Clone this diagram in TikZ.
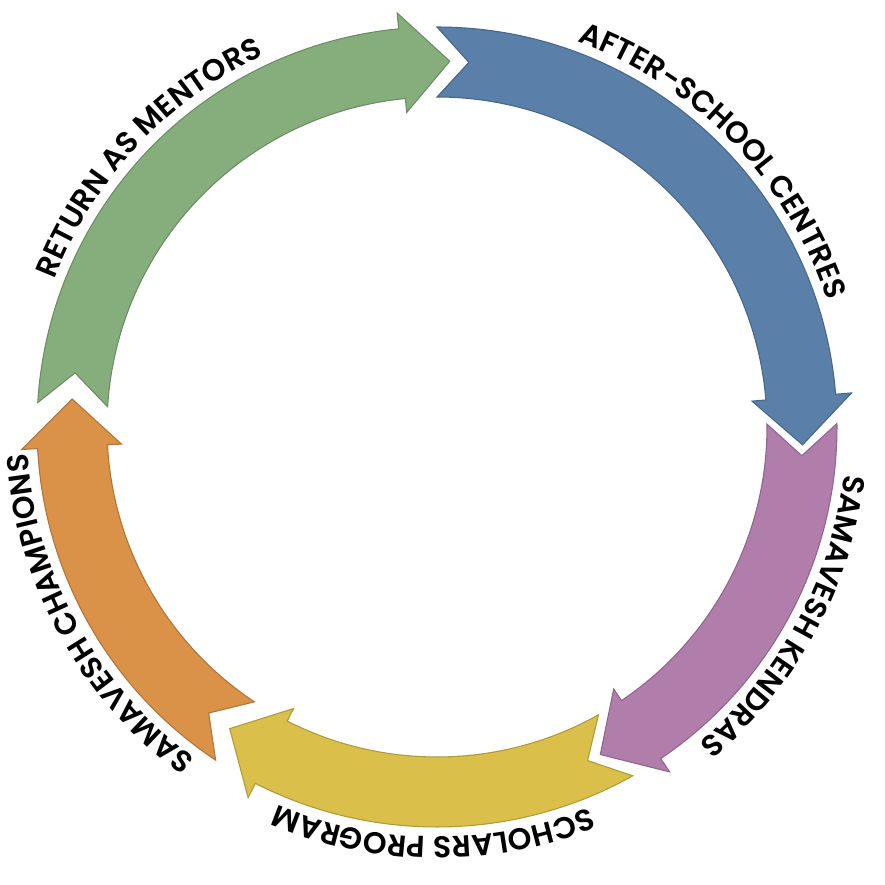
\documentclass[tikz,border=0pt]{standalone}
\usepackage{fontspec}
\newfontfamily\lblfont{Poppins}[UprightFont=* SemiBold]
\usetikzlibrary{calc,decorations.text}
\definecolor{cgreen}{HTML}{86AE7D}
\definecolor{cblue}{HTML}{5A7FA8}
\definecolor{cpurple}{HTML}{B17EAC}
\definecolor{cyellow}{HTML}{DABF4A}
\definecolor{corange}{HTML}{DA9148}
\def\Rin{3.30}
\def\Rout{4.00}
\def\Rmid{3.66}
\def\Hin{3.16}
\def\Hout{4.16}
\def\Rtxt{4.10}
\newcommand{\cyclearrow}[3]{%
  \pgfmathsetmacro\hbase{#3+7.5}%
  \pgfmathsetmacro\notch{#2-5}%
  \filldraw[arrowbody, fill=#1, draw=#1!80!black]
    ($(c)+(#2:\Rout)$) arc[start angle=#2, end angle=\hbase, radius=\Rout]
    -- ($(c)+(\hbase:\Hout)$) -- ($(c)+(#3:\Rmid)$) -- ($(c)+(\hbase:\Hin)$)
    -- ($(c)+(\hbase:\Rin)$) arc[start angle=\hbase, end angle=#2, radius=\Rin]
    -- ($(c)+(\notch:\Rmid)$) -- cycle;}
\newcommand{\arclabel}[2]{%
  \pgfmathsetmacro\astart{#1+45}%
  \pgfmathsetmacro\aend{#1-45}%
  \path[decorate, decoration={text along path, text align=center,
      text={|\lblfont\fontsize{8.6}{10}\selectfont|#2}}]
    ($(c)+(\astart:\Rtxt)$) arc[start angle=\astart, end angle=\aend, radius=\Rtxt];}
\tikzset{arrowbody/.style={line width=0.3pt, line join=miter}}
\begin{document}
\begin{tikzpicture}
\useasboundingbox (0,0) rectangle (8.85,8.85);
\coordinate (c) at (4.37,4.58);
\cyclearrow{cblue}{90}{-2.8}
\cyclearrow{cpurple}{0.5}{-63.5}
\cyclearrow{cyellow}{-60.7}{-124.5}
\cyclearrow{corange}{-123.6}{-184.4}
\cyclearrow{cgreen}{176.5}{88}
\arclabel{137}{RETURN AS MENTORS}
\arclabel{44}{AFTER-SCHOOL CENTRES}
\arclabel{-28.5}{SAMAVESH KENDRAS}
\arclabel{-90.5}{SCHOLARS PROGRAM}
\arclabel{-151.2}{SAMAVESH CHAMPIONS}
\end{tikzpicture}
\end{document}
